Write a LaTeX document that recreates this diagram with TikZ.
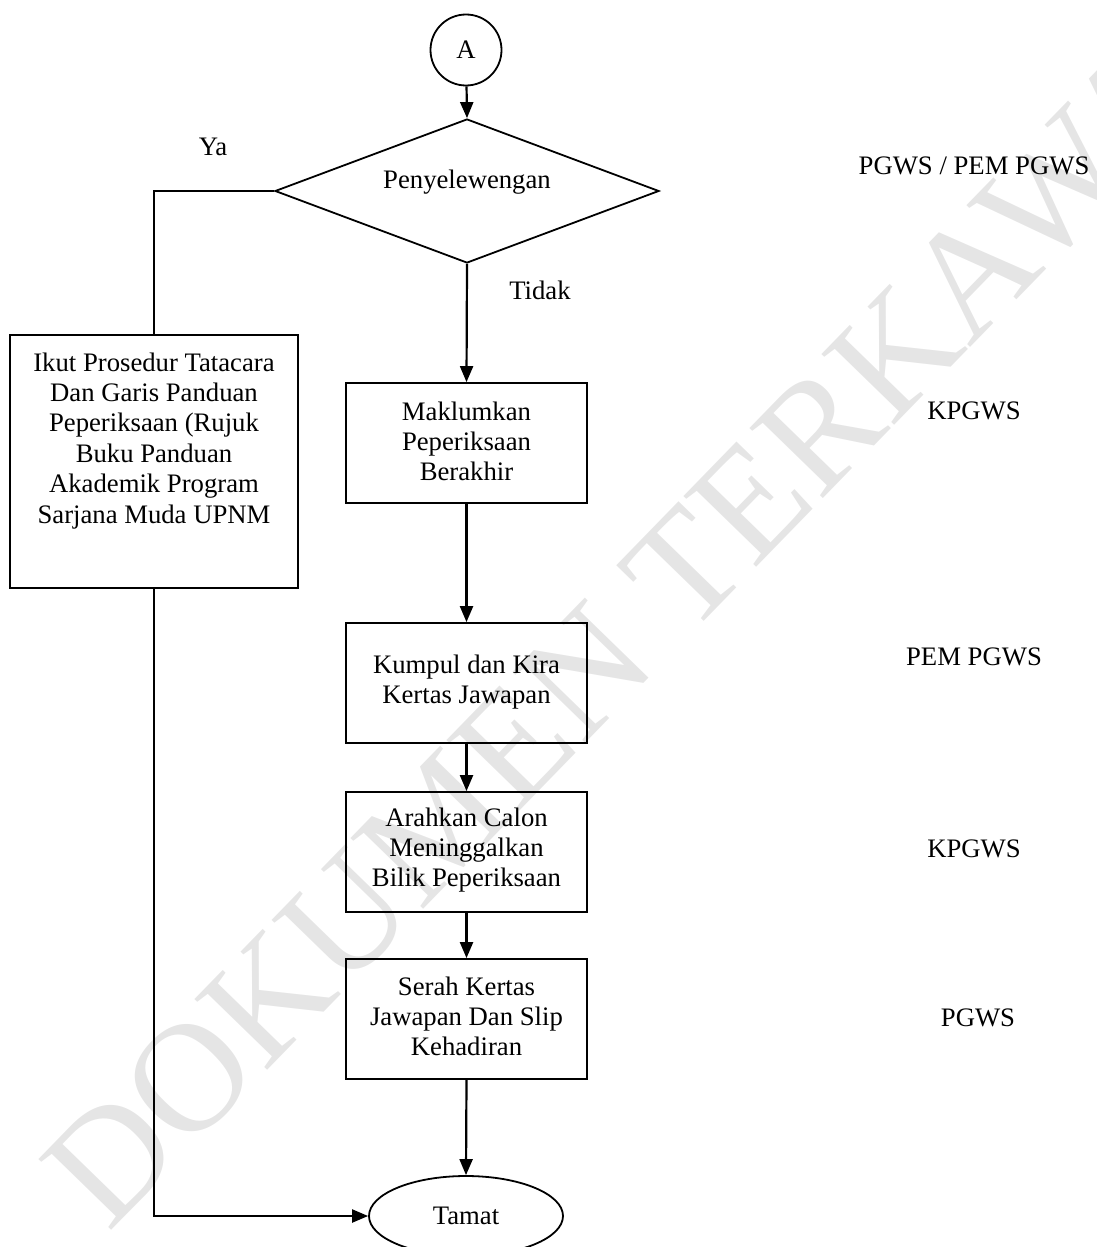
\documentclass[tikz,border=0pt]{standalone}
\usepackage{fontspec}
\setmainfont{Liberation Serif}
\usetikzlibrary{arrows.meta,shapes.geometric}
\newcommand{\mlines}[1]{\parbox[t]{300pt}{\centering #1}}
\begin{document}
\begin{tikzpicture}[x=1pt,y=-1pt,
  every node/.style={font=\fontsize{26.7}{30.4}\selectfont, inner sep=0pt},
  procbox/.style={draw, line width=1.8pt, rectangle, minimum width=241pt, minimum height=120pt},
  conn/.style={line width=2.2pt},
  arr/.style={conn, -{Triangle[length=16pt,width=13pt]}},
  lbl/.style={anchor=base},
  wmark/.style={text=black!10, font=\fontsize{155}{155}\selectfont, rotate=45.8}
]
\useasboundingbox (0,0) rectangle (1096,1247);
\node[wmark] (wm) at (655,600) {DOKUMEN TERKAWAL};

\node[circle, draw, line width=1.8pt, minimum size=71pt] (A) at (466,50) {A};
\node[diamond, draw, line width=1.8pt, minimum width=384pt, minimum height=144pt, aspect=2.667] (dia) at (467,191) {};
\node[lbl] (diat) at (467,188) {Penyelewengan};
\node[lbl] (ya) at (213,155) {Ya};
\node[lbl] (tidak) at (540,299) {Tidak};

\node[procbox, minimum width=288pt, minimum height=253pt] (ikut) at (154,461.5) {};
\node[lbl] (ikutt) at (154,371) {\mlines{Ikut Prosedur Tatacara\\Dan Garis Panduan\\Peperiksaan (Rujuk\\Buku Panduan\\Akademik Program\\Sarjana Muda UPNM}};

\node[procbox] (mak) at (466.5,443) {};
\node[lbl] (makt) at (466.5,420) {\mlines{Maklumkan\\Peperiksaan\\Berakhir}};

\node[procbox] (kum) at (466.5,683) {};
\node[lbl] (kumt) at (466.5,673) {\mlines{Kumpul dan Kira\\Kertas Jawapan}};

\node[procbox] (ara) at (466.5,852) {};
\node[lbl] (arat) at (466.5,826) {\mlines{Arahkan Calon\\Meninggalkan\\Bilik Peperiksaan}};

\node[procbox] (ser) at (466.5,1019) {};
\node[lbl] (sert) at (466.5,995) {\mlines{Serah Kertas\\Jawapan Dan Slip\\Kehadiran}};

\node[ellipse, draw, line width=1.8pt, minimum width=194pt, minimum height=80pt] (tamat) at (466,1216) {Tamat};

\node[lbl] (r1) at (974,174) {PGWS / PEM PGWS};
\node[lbl] (r2) at (974,419) {KPGWS};
\node[lbl] (r3) at (974,665) {PEM PGWS};
\node[lbl] (r4) at (974,857) {KPGWS};
\node[lbl] (r5) at (978,1026) {PGWS};

\draw[arr] (A) -- (dia.north);
\draw[conn] (dia.west) -| (ikut.north);
\draw[arr] (dia.south) -- (mak.north);
\draw[arr] (mak.south) -- (kum.north);
\draw[arr] (kum.south) -- (ara.north);
\draw[arr] (ara.south) -- (ser.north);
\draw[arr] (ser.south) -- (tamat.north);
\draw[arr] (ikut.south) |- (tamat.west);
\end{tikzpicture}
\end{document}
